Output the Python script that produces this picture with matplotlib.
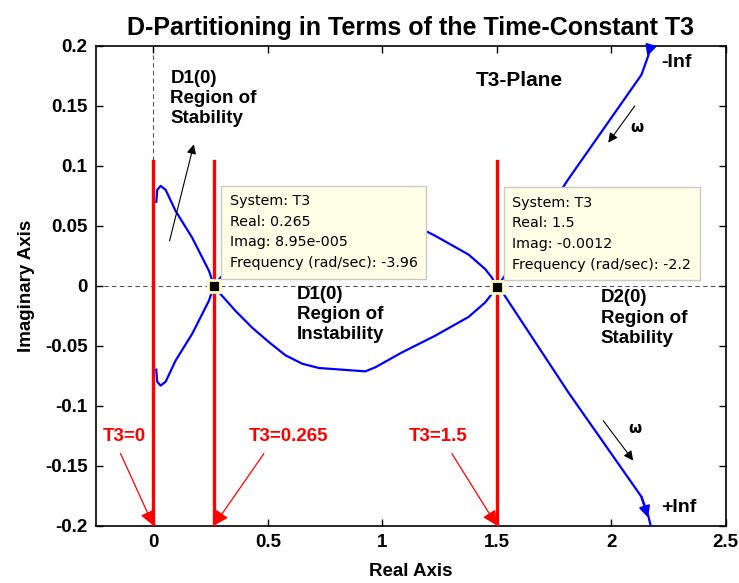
import numpy as np
import matplotlib.pyplot as plt

plt.rcParams['font.family'] = ['Liberation Sans', 'DejaVu Sans']

# Boundary curve for negative frequencies (from w = -Inf down to w = 0).
# The positive-frequency half is its complex conjugate.
re_neg = [2.172, 2.162, 2.132, 1.813, 1.52, 1.5, 1.478, 1.449, 1.377, 1.231,
          1.086, 0.97, 0.926, 0.824, 0.723, 0.65, 0.577, 0.505, 0.432, 0.359,
          0.294, 0.265, 0.243, 0.17, 0.097, 0.054, 0.032, 0.017, 0.013]
im_neg = [0.200, 0.192, 0.176, 0.089, 0.004, 0.0, -0.007, -0.014, -0.026,
          -0.0417, -0.0556, -0.068, -0.0714, -0.070, -0.0686, -0.065, -0.058,
          -0.047, -0.035, -0.021, -0.007, 0.0, 0.0125, 0.040, 0.0625, 0.080,
          0.0833, 0.080, 0.070]

# Crossings of the real axis (critical values of T3)
t3_crit = [0.0, 0.265, 1.5]
t3_labels = ['T3=0', 'T3=0.265', 'T3=1.5']
t3_label_x = [-0.125, 0.592, 1.242]
t3_arrow_x = [-0.143, 0.483, 1.304]

# Data tips
tip_real = [0.265, 1.5]
tip_imag = [8.95e-5, -0.0012]
tip_freq = [-3.96, -2.2]
tip_text = ['8.95e-005', '-0.0012']

xticks = [0, 0.5, 1, 1.5, 2, 2.5]
yticks = [-0.2, -0.15, -0.1, -0.05, 0, 0.05, 0.1, 0.15, 0.2]
yticklabels = ['-0.2', '-0.15', '-0.1', '-0.05', '0', '0.05', '0.1', '0.15', '0.2']

fig = plt.figure(figsize=(7.39, 5.83), dpi=100)
ax = fig.add_axes([0.130, 0.0986, 0.852, 0.8225])

re_neg = np.array(re_neg)
im_neg = np.array(im_neg)
re_pos = re_neg[::-1]
im_pos = -im_neg[::-1]

# grid lines through the origin
ax.axhline(0, color='#555555', linestyle=(0, (4, 3)), linewidth=0.8, zorder=1)
ax.axvline(0, color='#555555', linestyle=(0, (4, 3)), linewidth=0.8, zorder=1)

ax.plot(re_neg, im_neg, color='blue', linewidth=1.6, zorder=3)
ax.plot(re_pos, im_pos, color='blue', linewidth=1.6, zorder=3)

# direction arrows at the ends of the curve
ax.annotate('', xy=(re_neg[2], im_neg[2]), xytext=(re_neg[0], im_neg[0]),
            arrowprops=dict(arrowstyle='-|>', color='blue', lw=1.6,
                            mutation_scale=16, shrinkA=0, shrinkB=14), zorder=4)
ax.annotate('', xy=(re_pos[-1], im_pos[-1]), xytext=(re_pos[-3], im_pos[-3]),
            arrowprops=dict(arrowstyle='-|>', color='blue', lw=1.6,
                            mutation_scale=16, shrinkA=0, shrinkB=6), zorder=4)

# critical T3 lines and their labels
for xc, lab, lx, ax0 in zip(t3_crit, t3_labels, t3_label_x, t3_arrow_x):
    ax.plot([xc, xc], [-0.2, 0.104], color='red', linewidth=2.4, zorder=4)
    ax.text(lx, -0.126, lab, color='red', fontsize=13.5, fontweight='bold',
            ha='center', va='center', zorder=6)
    ax.annotate('', xy=(xc, -0.2), xytext=(ax0, -0.14),
                arrowprops=dict(arrowstyle='-|>', color='red', lw=0.9,
                                mutation_scale=22, shrinkA=0, shrinkB=0),
                zorder=6)

# data tip markers and boxes
for xr, yi, fr, ti in zip(tip_real, tip_imag, tip_freq, tip_text):
    ax.plot(xr, yi, 's', color='black', markersize=8.5, markeredgecolor='#ffffc0',
            markeredgewidth=2, zorder=7)
    txt = ('System: T3\nReal: %g\nImag: %s\nFrequency (rad/sec): %g'
           % (xr, ti, fr))
    ax.annotate(txt, xy=(xr, yi), xytext=(11.2, 11.2), textcoords='offset points',
                fontsize=10.3, family='DejaVu Sans', linespacing=1.6,
                ha='left', va='bottom', zorder=8,
                bbox=dict(boxstyle='square,pad=0.6', fc='#ffffe8', ec='#c8c8c8', lw=1))

# region annotations
ax.text(0.075, 0.180, 'D1(0)\nRegion of\nStability', fontsize=13.5, fontweight='bold',
        ha='left', va='top', linespacing=1.25, zorder=6)
ax.annotate('', xy=(0.177, 0.118), xytext=(0.071, 0.0375),
            arrowprops=dict(arrowstyle='-|>', color='black', lw=0.8,
                            mutation_scale=14, shrinkA=0, shrinkB=0), zorder=6)
ax.text(0.628, 0.0, 'D1(0)\nRegion of\nInstability', fontsize=13.5, fontweight='bold',
        ha='left', va='top', linespacing=1.25, zorder=6)
ax.text(1.955, -0.003, 'D2(0)\nRegion of\nStability', fontsize=13.5, fontweight='bold',
        ha='left', va='top', linespacing=1.25, zorder=6)
ax.text(1.41, 0.171, 'T3-Plane', fontsize=15, fontweight='bold',
        ha='left', va='center', zorder=6)

# frequency direction
ax.annotate('', xy=(1.987, 0.1194), xytext=(2.103, 0.150),
            arrowprops=dict(arrowstyle='-|>', color='black', lw=0.8,
                            mutation_scale=14, shrinkA=0, shrinkB=0), zorder=6)
ax.text(2.085, 0.132, 'ω', fontsize=11, fontweight='bold', family='DejaVu Sans',
        ha='left', va='center')
ax.annotate('', xy=(2.096, -0.1458), xytext=(1.965, -0.1125),
            arrowprops=dict(arrowstyle='-|>', color='black', lw=0.8,
                            mutation_scale=14, shrinkA=0, shrinkB=0), zorder=6)
ax.text(2.075, -0.119, 'ω', fontsize=11, fontweight='bold', family='DejaVu Sans',
        ha='left', va='center')
ax.text(2.22, 0.186, '-Inf', fontsize=14, fontweight='bold', ha='left', va='center')
ax.text(2.22, -0.185, '+Inf', fontsize=14, fontweight='bold', ha='left', va='center')

ax.set_xlim(-0.25, 2.5)
ax.set_ylim(-0.2, 0.2)
ax.set_xticks(xticks)
ax.set_xticklabels(['0', '0.5', '1', '1.5', '2', '2.5'])
ax.set_yticks(yticks)
ax.set_yticklabels(yticklabels)
ax.tick_params(direction='in', length=5, width=1, top=True, right=True,
               labelsize=13.5, pad=6)
for lab in ax.get_xticklabels() + ax.get_yticklabels():
    lab.set_fontweight('bold')
for sp in ax.spines.values():
    sp.set_linewidth(1.2)

ax.set_xlabel('Real Axis', fontsize=13.5, fontweight='bold', labelpad=9)
ax.set_ylabel('Imaginary Axis', fontsize=13.5, fontweight='bold', labelpad=7)
ax.set_title('D-Partitioning in Terms of the Time-Constant T3', fontsize=18,
             fontweight='bold', pad=8)

plt.savefig('out.png', dpi=100)
plt.close()
